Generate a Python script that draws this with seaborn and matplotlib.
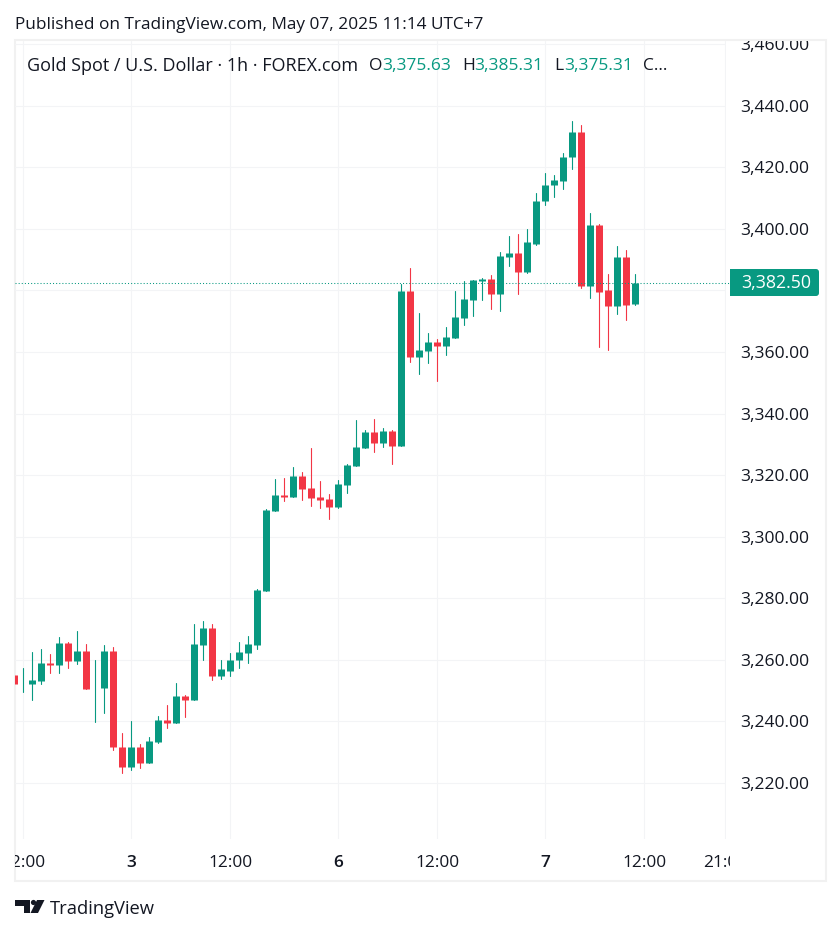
import pandas as pd
import seaborn as sns
import matplotlib.pyplot as plt
from matplotlib.patches import Rectangle, FancyBboxPatch, Polygon, Circle

opens = [3255.2, 3252.0, 3252.0, 3253.1, 3259.1, 3258.3, 3265.6, 3259.6, 3263.0, 3250.8,
         3250.8, 3263.0, 3231.8, 3225.1, 3231.8, 3226.4, 3233.3, 3240.6, 3239.6, 3248.4,
         3246.9, 3264.7, 3270.5, 3254.6, 3256.5, 3259.8, 3262.1, 3264.7, 3282.3, 3308.3,
         3313.5, 3312.9, 3319.7, 3315.8, 3312.9, 3312.2, 3309.6, 3316.8, 3322.9, 3328.8,
         3334.0, 3330.4, 3334.3, 3329.4, 3379.8, 3358.3, 3360.3, 3363.2, 3361.9, 3364.5,
         3371.0, 3376.9, 3383.0, 3383.7, 3378.8, 3391.0, 3392.0, 3386.1, 3395.2, 3408.9,
         3414.1, 3415.7, 3423.2, 3431.6, 3381.6, 3401.1, 3380.0, 3374.8, 3391.0, 3375.63]
highs = [3255.2, 3257.2, 3262.7, 3263.6, 3262.0, 3267.5, 3265.8, 3269.4, 3265.2, 3259.8,
         3264.9, 3264.2, 3236.4, 3240.0, 3232.7, 3234.8, 3241.8, 3245.2, 3252.6, 3248.7,
         3271.5, 3272.7, 3271.5, 3259.8, 3262.3, 3265.8, 3267.9, 3283.0, 3309.0, 3318.7,
         3319.0, 3322.6, 3321.0, 3328.8, 3318.0, 3313.8, 3318.4, 3323.6, 3337.9, 3334.6,
         3338.2, 3335.3, 3334.6, 3382.1, 3387.3, 3372.6, 3366.1, 3364.2, 3368.1, 3379.8,
         3383.0, 3383.4, 3384.0, 3385.0, 3392.5, 3397.8, 3398.2, 3400.1, 3411.8, 3418.0,
         3417.6, 3424.5, 3435.2, 3433.9, 3405.0, 3401.7, 3385.5, 3394.3, 3393.0, 3385.31]
lows = [3252.0, 3249.7, 3246.9, 3252.1, 3255.7, 3255.7, 3257.5, 3258.6, 3250.5, 3239.8,
        3242.7, 3230.7, 3223.2, 3224.2, 3224.8, 3226.4, 3232.9, 3238.0, 3239.4, 3241.6,
        3246.9, 3260.1, 3253.3, 3253.9, 3254.6, 3257.2, 3259.1, 3263.4, 3282.3, 3308.3,
        3311.6, 3312.9, 3311.9, 3309.9, 3309.3, 3305.7, 3309.3, 3314.2, 3322.9, 3328.8,
        3327.5, 3329.1, 3323.6, 3329.4, 3356.7, 3352.8, 3356.4, 3350.5, 3359.0, 3364.5,
        3368.7, 3371.7, 3376.9, 3373.9, 3373.3, 3388.1, 3378.7, 3385.8, 3394.9, 3407.9,
        3410.5, 3413.1, 3419.6, 3380.9, 3377.4, 3361.5, 3360.5, 3372.5, 3370.5, 3375.31]
closes = [3252.0, 3252.3, 3253.3, 3259.1, 3258.3, 3265.6, 3259.6, 3263.0, 3250.5, 3251.0,
          3263.0, 3231.6, 3225.1, 3231.8, 3226.4, 3233.8, 3240.6, 3239.6, 3248.4, 3246.9,
          3265.0, 3270.5, 3254.6, 3256.9, 3260.1, 3262.4, 3265.0, 3282.6, 3308.6, 3313.5,
          3312.9, 3319.7, 3315.5, 3312.5, 3311.9, 3309.6, 3317.1, 3323.2, 3329.1, 3334.0,
          3330.4, 3334.3, 3329.4, 3379.8, 3358.3, 3360.6, 3363.2, 3361.9, 3364.8, 3371.3,
          3377.2, 3383.4, 3383.7, 3378.8, 3391.2, 3392.0, 3386.1, 3395.6, 3409.2, 3414.4,
          3416.0, 3423.5, 3431.6, 3381.6, 3401.1, 3379.6, 3374.8, 3391.0, 3375.4, 3382.5]

price_ticks = [3220, 3240, 3260, 3280, 3300, 3320, 3340, 3360, 3380, 3400, 3420, 3440, 3460]
hidden_price = 3380  # sits under the last price badge
time_ticks = [1, 13, 24, 36, 47, 59, 70, 79]
time_labels = ["12:00", "3", "12:00", "6", "12:00", "7", "12:00", "21:00"]

GREEN = "#089981"
RED = "#F23645"
GRID = "#f3f4f6"
FRAME = "#f1f1f1"
TEXT = "#131722"
W, H = 840, 934

sns.set_theme(style="white")
plt.rcParams["font.family"] = ["Open Sans", "DejaVu Sans"]

df = pd.DataFrame({"candle": range(len(opens)), "open": opens, "high": highs, "low": lows, "close": closes})
df["direction"] = ["up" if c >= o else "down" for o, c in zip(df["open"], df["close"])]
df["body_top"] = df[["open", "close"]].max(axis=1)
df["body_bottom"] = df[["open", "close"]].min(axis=1)
wicks = df.melt(id_vars=["candle", "direction"], value_vars=["low", "high"], value_name="price")
bodies = df.melt(id_vars=["candle", "direction"], value_vars=["body_bottom", "body_top"], value_name="price")
colors = {"up": GREEN, "down": RED}

fig = plt.figure(figsize=(W / 100, H / 100), dpi=100, facecolor="white")

# pixel overlay for the frame, header and logo
page = fig.add_axes([0, 0, 1, 1], zorder=0)
page.set_xlim(0, W)
page.set_ylim(H, 0)
page.axis("off")
page.add_patch(Rectangle((15, 40), 811, 841, fill=False, ec=FRAME, lw=1.5))

ax = fig.add_axes([15 / W, 1 - 839 / H, 711 / W, 798 / H], zorder=1)
ax.patch.set_alpha(0)
sns.lineplot(data=wicks, x="candle", y="price", hue="direction", units="candle", estimator=None,
             palette=colors, linewidth=0.8, legend=False, ax=ax)
sns.lineplot(data=bodies, x="candle", y="price", hue="direction", units="candle", estimator=None,
             palette=colors, linewidth=5.04, solid_capstyle="butt", legend=False, ax=ax)

ax.set_xlim(0.056, 79.06)
ax.set_ylim(3420 - (839 - 167.3) / 3.0785, 3420 + (167.3 - 41) / 3.0785)
ax.set_xlabel("")
ax.set_ylabel("")
ax.set_xticks(time_ticks)
ax.set_xticklabels(time_labels)
ax.set_yticks(price_ticks)
ax.set_yticklabels(["" if p == hidden_price else f"{p:,.2f}" for p in price_ticks])
ax.yaxis.tick_right()
ax.grid(True, color=GRID, linewidth=0.8)
ax.set_axisbelow(True)
sns.despine(ax=ax, left=True, bottom=True, right=True, top=True)
ax.tick_params(axis="x", length=0, pad=11.7, labelsize=12.4, labelcolor=TEXT)
ax.tick_params(axis="y", length=0, pad=10.2, labelsize=12.6, labelcolor=TEXT)

# labels running past the frame are cut off, as on the original
scale_clip = Rectangle((15, 41), 715, 840, transform=page.transData)
for lbl in ax.get_yticklabels():
    lbl.set_clip_on(True)
    lbl.set_clip_path(Rectangle((15, 41), 811, 840, transform=page.transData))
    lbl.set_verticalalignment("center_baseline")
for lbl in ax.get_xticklabels():
    lbl.set_clip_on(True)
    lbl.set_clip_path(scale_clip)
    if lbl.get_text().isdigit():
        lbl.set_fontweight("semibold")

# last price line and badge
last = closes[-1]
ax.hlines(last, 0.056, 79.6, colors=GREEN, linewidth=0.75, linestyles=(0, (1, 2)), clip_on=False)
over = fig.add_axes([0, 0, 1, 1], zorder=2)
over.set_xlim(0, W)
over.set_ylim(H, 0)
over.axis("off")
over.add_patch(FancyBboxPatch((733, 269), 86, 27, boxstyle="round,pad=0,rounding_size=3",
                              fc=GREEN, ec="none", mutation_aspect=1))
over.add_patch(Rectangle((730, 269), 10, 27, fc=GREEN, ec="none"))
over.text(776, 283, f"{last:,.2f}", color="white", fontsize=12.8, ha="center", va="center")

# header lines
over.text(15, 25, "Published on TradingView.com, May 07, 2025 11:14 UTC+7", color=TEXT,
          fontsize=12.4, va="center")
over.text(27, 66, "Gold Spot / U.S. Dollar · 1h · FOREX.com", color=TEXT, fontsize=13, va="center")
for x, letter, val_x, val in [(369, "O", 382, opens[-1]), (462, "H", 474, highs[-1]), (554, "L", 564, lows[-1])]:
    over.text(x, 66, letter, color=TEXT, fontsize=12.5, va="center")
    over.text(val_x, 66, f"{val:,.2f}", color=GREEN, fontsize=12.5, va="center")
over.text(643, 66, "C...", color=TEXT, fontsize=12.5, va="center")

# logo
over.add_patch(Polygon([(15, 900), (30, 900), (30, 913), (24, 913), (24, 906), (15, 906)], fc=TEXT, ec="none"))
over.add_patch(Circle((33.5, 902.5), 2.6, fc=TEXT, ec="none"))
over.add_patch(Polygon([(37, 900), (44.5, 900), (38, 913), (30.5, 913)], fc=TEXT, ec="none"))
over.text(50, 909, "TradingView", color=TEXT, fontsize=13.2, va="center")

fig.savefig("out.png", dpi=100)
